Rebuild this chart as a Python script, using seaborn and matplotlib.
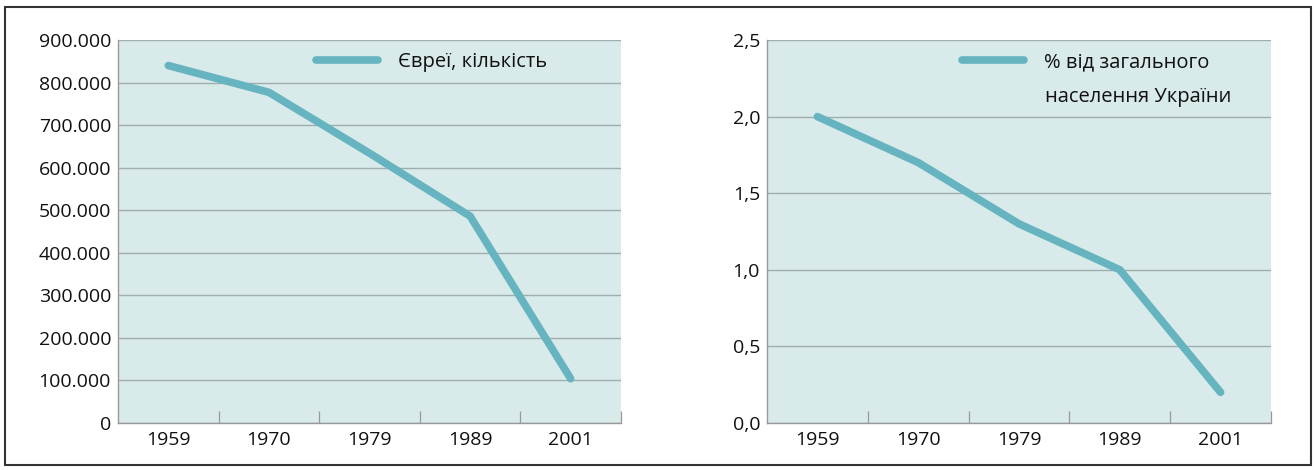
import matplotlib
matplotlib.use("Agg")
import matplotlib.pyplot as plt
import matplotlib.ticker as mticker
from matplotlib.patches import Rectangle
import seaborn as sns
import pandas as pd

years = ["1959", "1970", "1979", "1989", "2001"]
jews_count = [840000, 777000, 634000, 486000, 104000]
jews_share = [2.0, 1.7, 1.3, 1.0, 0.2]
label_count = "Євреї, кількість"
label_share_1 = "% від загального"
label_share_2 = "населення України"

sns.set_theme(style="white")
plt.rcParams["font.family"] = ["Open Sans", "DejaVu Sans"]

LINE = "#67b4c1"
BG = "#d9eaea"
GRID = "#a0adad"
FS = 14
LEG_FS = 14.5
LW = 5.5

fig = plt.figure(figsize=(13.14, 4.70), dpi=100)
ax1 = fig.add_axes([118 / 1314, 47 / 470, 503 / 1314, 383 / 470])
ax2 = fig.add_axes([767 / 1314, 47 / 470, 504 / 1314, 383 / 470])

df = pd.DataFrame({"year": years, "count": jews_count, "share": jews_share})


def style_axis(ax, ymax, step, fmt):
    ax.set_facecolor(BG)
    ax.set_xlim(-0.5, len(years) - 0.5)
    ax.set_ylim(0, ymax)
    ax.yaxis.set_major_locator(mticker.MultipleLocator(step))
    ax.yaxis.set_major_formatter(mticker.FuncFormatter(fmt))
    ax.set_xticks(range(len(years)))
    ax.set_xticklabels(years)
    ax.set_xticks([i + 0.5 for i in range(len(years))], minor=True)
    ax.tick_params(axis="x", which="major", length=0, pad=6, labelsize=FS, colors="#111111")
    ax.tick_params(axis="x", which="minor", direction="in", length=9, width=0.9,
                   color="#999999", bottom=True)
    ax.tick_params(axis="y", length=0, pad=5, labelsize=FS, colors="#111111")
    ax.grid(axis="y", color=GRID, linewidth=1.0)
    ax.set_axisbelow(True)
    for s in ["top", "right"]:
        ax.spines[s].set_visible(False)
    for s in ["left", "bottom"]:
        ax.spines[s].set_color("#999999")
        ax.spines[s].set_linewidth(1.0)
    ax.set_xlabel("")
    ax.set_ylabel("")


sns.lineplot(data=df, x="year", y="count", ax=ax1, color=LINE, linewidth=LW,
             label=label_count, sort=False)
sns.lineplot(data=df, x="year", y="share", ax=ax2, color=LINE, linewidth=LW,
             label=label_share_1, sort=False)

for ax in (ax1, ax2):
    for ln in ax.get_lines():
        ln.set_solid_capstyle("round")
        ln.set_solid_joinstyle("miter")

style_axis(ax1, 900000, 100000, lambda v, p: f"{int(v):,}".replace(",", "."))
style_axis(ax2, 2.5, 0.5, lambda v, p: f"{v:.1f}".replace(".", ","))

for ax, x0 in ((ax1, 0.393), (ax2, 0.386)):
    leg = ax.legend(loc="center left", bbox_to_anchor=(x0, 0.942), frameon=False,
                    fontsize=LEG_FS, handlelength=3.1, handletextpad=1.0, borderpad=0,
                    borderaxespad=0)
    for t in leg.get_texts():
        t.set_color("#111111")
    for h in leg.get_lines():
        h.set_solid_capstyle("round")
        h.set_linewidth(LW)

ax2.text(0.552, 0.851, label_share_2, transform=ax2.transAxes, fontsize=LEG_FS,
         ha="left", va="center", color="#111111")

fig.patches.append(Rectangle((5 / 1314, 5 / 470), 1306 / 1314, 458 / 470,
                             transform=fig.transFigure, fill=False,
                             edgecolor="#333333", linewidth=1.5))

fig.savefig("out.png", dpi=100)
